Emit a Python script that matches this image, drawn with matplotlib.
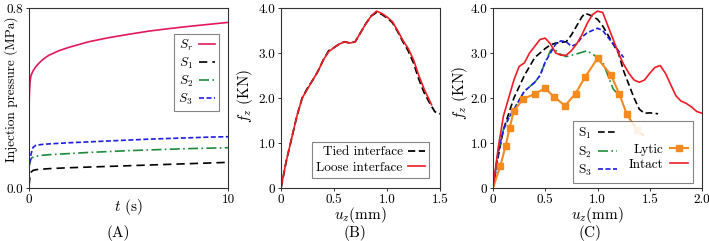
import matplotlib
matplotlib.use("Agg")
import matplotlib.pyplot as plt
from matplotlib.lines import Line2D

plt.rcParams['font.family'] = ['cmr10', 'DejaVu Serif']
plt.rcParams['mathtext.fontset'] = 'cm'
plt.rcParams['axes.formatter.use_mathtext'] = True

# ---------------- Panel A data ----------------
t_r = [0, 0.02, 0.05, 0.1, 0.2, 0.35, 0.5, 0.75, 1.0, 1.5, 2, 3, 4, 5, 6, 7, 8, 9, 10]
p_r = [0.34, 0.42, 0.47, 0.50, 0.52, 0.54, 0.555, 0.575, 0.59, 0.61, 0.625, 0.65, 0.668,
       0.683, 0.697, 0.708, 0.718, 0.727, 0.736]
t_1 = [0, 0.05, 0.1, 0.2, 0.4, 0.7, 1, 2, 3, 4, 5, 6, 7, 8, 9, 10]
p_1 = [0.01, 0.05, 0.07, 0.078, 0.082, 0.084, 0.086, 0.09, 0.093, 0.096, 0.099, 0.102,
       0.105, 0.108, 0.111, 0.114]
t_2 = [0.02, 0.05, 0.08, 0.15, 0.3, 0.6, 1, 2, 3, 4, 5, 6, 7, 8, 9, 10]
p_2 = [0.10, 0.11, 0.125, 0.135, 0.14, 0.145, 0.148, 0.153, 0.158, 0.162, 0.166, 0.169,
       0.172, 0.175, 0.177, 0.179]
t_3 = [0.02, 0.05, 0.1, 0.2, 0.35, 0.6, 1, 2, 3, 4, 5, 6, 7, 8, 9, 10]
p_3 = [0.11, 0.12, 0.15, 0.18, 0.19, 0.193, 0.196, 0.201, 0.205, 0.209, 0.213, 0.217,
       0.220, 0.223, 0.226, 0.228]

# ---------------- Panel B data ----------------
u_loose = [0, 0.05, 0.1, 0.15, 0.2, 0.25, 0.3, 0.35, 0.4, 0.45, 0.5, 0.55, 0.6, 0.65, 0.7,
           0.75, 0.8, 0.85, 0.9, 0.95, 1.0, 1.05, 1.1, 1.15, 1.2, 1.25, 1.3, 1.35, 1.4, 1.42]
f_loose = [0, 0.6, 1.1, 1.6, 2.0, 2.2, 2.4, 2.6, 2.85, 3.03, 3.12, 3.2, 3.25, 3.22, 3.25,
           3.45, 3.65, 3.82, 3.93, 3.88, 3.8, 3.7, 3.5, 3.28, 3.1, 2.85, 2.5, 2.2, 1.95, 1.85]
u_tied = [0, 0.05, 0.1, 0.15, 0.2, 0.25, 0.3, 0.35, 0.4, 0.45, 0.5, 0.55, 0.6, 0.65, 0.7,
          0.75, 0.8, 0.85, 0.9, 0.95, 1.0, 1.05, 1.1, 1.15, 1.2, 1.25, 1.3, 1.35, 1.4, 1.45,
          1.48, 1.5]
f_tied = [0, 0.6, 1.1, 1.6, 2.0, 2.22, 2.4, 2.6, 2.85, 3.05, 3.12, 3.2, 3.25, 3.22, 3.25,
          3.45, 3.65, 3.82, 3.9, 3.86, 3.78, 3.68, 3.48, 3.25, 3.05, 2.78, 2.42, 2.12, 1.9,
          1.7, 1.65, 1.65]

# ---------------- Panel C data ----------------
u_int = [0, 0.05, 0.1, 0.15, 0.2, 0.25, 0.3, 0.35, 0.4, 0.45, 0.5, 0.55, 0.6, 0.65, 0.7,
         0.75, 0.8, 0.85, 0.9, 0.95, 1.0, 1.05, 1.1, 1.15, 1.2, 1.25, 1.3, 1.35, 1.4, 1.45,
         1.5, 1.55, 1.6, 1.65, 1.7, 1.75, 1.8, 1.85, 1.9, 1.95, 2.0]
f_int = [0, 0.9, 1.6, 2.0, 2.4, 2.7, 2.78, 3.0, 3.15, 3.3, 3.33, 3.2, 3.0, 2.95, 2.95,
         3.05, 3.2, 3.4, 3.65, 3.85, 3.93, 3.9, 3.6, 3.3, 3.0, 2.75, 2.55, 2.4, 2.35, 2.4,
         2.55, 2.68, 2.72, 2.55, 2.3, 2.05, 1.93, 1.88, 1.8, 1.7, 1.66]
u_s1 = [0, 0.05, 0.1, 0.2, 0.3, 0.4, 0.5, 0.55, 0.6, 0.7, 0.75, 0.8, 0.85, 0.88, 0.92, 1.0,
        1.05, 1.1, 1.2, 1.25, 1.3, 1.35, 1.4, 1.45, 1.5, 1.58]
f_s1 = [0, 0.7, 1.3, 2.0, 2.5, 2.9, 3.1, 3.18, 3.22, 3.25, 3.4, 3.6, 3.8, 3.88, 3.85, 3.75,
        3.6, 3.4, 3.0, 2.6, 2.3, 2.0, 1.75, 1.66, 1.67, 1.65]
u_s2 = [0, 0.05, 0.1, 0.15, 0.2, 0.3, 0.4, 0.45, 0.5, 0.55, 0.58, 0.62, 0.7, 0.8, 0.9,
        0.95, 1.0, 1.05, 1.1, 1.15, 1.2]
f_s2 = [0, 0.8, 1.3, 1.55, 1.75, 2.15, 2.35, 2.5, 2.8, 3.05, 3.12, 3.0, 2.92, 2.98, 3.05,
        2.98, 2.9, 2.8, 2.5, 2.2, 2.08]
u_s3 = [0, 0.05, 0.1, 0.15, 0.2, 0.3, 0.4, 0.45, 0.5, 0.55, 0.6, 0.65, 0.7, 0.75, 0.8,
        0.85, 0.9, 1.0, 1.05, 1.1, 1.15, 1.2, 1.25]
f_s3 = [0, 0.8, 1.3, 1.55, 1.75, 2.15, 2.35, 2.5, 2.8, 3.0, 3.2, 3.27, 3.25, 3.15, 3.2,
        3.35, 3.45, 3.55, 3.5, 3.35, 3.2, 3.05, 2.9]
u_lyt = [0, 0.07, 0.12, 0.16, 0.2, 0.29, 0.4, 0.5, 0.58, 0.69, 0.79, 0.88, 1.0, 1.13, 1.21,
         1.28, 1.38, 1.44]
f_lyt = [0, 0.49, 0.93, 1.34, 1.72, 1.98, 2.09, 2.22, 2.03, 1.83, 2.1, 2.46, 2.88, 2.51,
         2.08, 1.64, 1.29, 1.17]
lyt_markers = list(range(1, 16))
lyt_faded = 16

W, H = 709, 241
fig = plt.figure(figsize=(W / 100, H / 100), dpi=100)

def ax_px(x0, x1, y0, y1):
    return fig.add_axes([x0 / W, (H - y1) / H, (x1 - x0) / W, (y1 - y0) / H])

RED_A = '#e3185a'
RED = '#ee1c25'
GREEN = '#1e8c3a'
BLUE = '#1c1ce6'
ORANGE = '#f58a1f'
TICKFS = 9.5
LABFS = 10.5
LEGFS = 9.5

def style(ax):
    for s in ax.spines.values():
        s.set_color('#333333')
        s.set_linewidth(0.8)
    ax.tick_params(length=2, width=0.7, direction='out', labelsize=TICKFS, pad=2,
                   color='#333333')

def frame(lg):
    lg.get_frame().set_edgecolor('#666666')
    lg.get_frame().set_linewidth(0.8)

# ---- Panel A ----
axA = ax_px(29, 228, 8, 188)
axA.plot(t_r, p_r, color=RED_A, lw=1.2, label='$S_r$')
axA.plot(t_1, p_1, color='black', lw=1.2, ls=(0, (5, 3)), label='$S_1$')
axA.plot(t_2, p_2, color=GREEN, lw=1.2, ls=(0, (6, 2, 1, 2)), label='$S_2$')
axA.plot(t_3, p_3, color=BLUE, lw=1.2, ls=(0, (3, 1.5)), label='$S_3$')
axA.set_xlim(0, 10)
axA.set_ylim(0, 0.8)
axA.set_xticks([0, 10])
axA.set_xticklabels(['0', '10'])
axA.set_yticks([0, 0.8])
axA.set_yticklabels(['0.0', '0.8'])
axA.set_ylabel('Injection pressure (MPa)', fontsize=9.6)
axA.set_xlabel('$t$ (s)', fontsize=LABFS + 0.5)
axA.yaxis.set_label_coords(-0.055, 0.55)
axA.xaxis.set_label_coords(0.5, -0.05)
style(axA)
lgA = axA.legend(loc='upper right', bbox_to_anchor=(0.955, 0.856), borderaxespad=0,
                 markerfirst=False, fancybox=False, fontsize=LEGFS, handlelength=1.2,
                 handletextpad=0.5, labelspacing=0.2, borderpad=0.3)
frame(lgA)

# ---- Panel B ----
axB = ax_px(281, 440, 8, 188)
axB.plot(u_tied, f_tied, color='black', lw=1.3, ls=(0, (4, 2)), label='Tied interface')
axB.plot(u_loose, f_loose, color=RED, lw=1.2, label='Loose interface')
axB.set_xlim(0, 1.5)
axB.set_ylim(0, 4.0)
axB.set_xticks([0, 0.5, 1.0, 1.5])
axB.set_xticklabels(['0', '0.5', '1.0', '1.5'])
axB.set_yticks([0, 1, 2, 3, 4])
axB.set_yticklabels(['0', '1.0', '2.0', '3.0', '4.0'])
axB.set_ylabel('$f_z$ (KN)', fontsize=LABFS + 0.5)
axB.set_xlabel('$u_z$(mm)', fontsize=LABFS + 0.5)
axB.yaxis.set_label_coords(-0.164, 0.51)
axB.xaxis.set_label_coords(0.5, -0.095)
style(axB)
lgB = axB.legend(loc='lower right', bbox_to_anchor=(0.931, 0.056), borderaxespad=0,
                 markerfirst=False, fancybox=False, fontsize=LEGFS, handlelength=1.3,
                 handletextpad=0.4, labelspacing=0.25, borderpad=0.3)
frame(lgB)

# ---- Panel C ----
axC = ax_px(493, 702, 8, 188)
h1, = axC.plot(u_s1, f_s1, color='black', lw=1.2, ls=(0, (4, 2)), label='S$_1$')
h2, = axC.plot(u_s2, f_s2, color=GREEN, lw=1.2, ls=(0, (6, 2, 1, 2)), label='S$_2$')
h3, = axC.plot(u_s3, f_s3, color=BLUE, lw=1.2, ls=(0, (3, 1.5)), label='S$_3$')
h4, = axC.plot(u_lyt, f_lyt, color=ORANGE, lw=1.5, marker='s', markersize=4,
               markevery=lyt_markers, label='Lytic')
axC.plot(u_lyt[lyt_faded], f_lyt[lyt_faded], 's', color='#f9c08c', markersize=4)
h5, = axC.plot(u_int, f_int, color=RED, lw=1.2, label='Intact')
axC.set_xlim(0, 2.0)
axC.set_ylim(0, 4.0)
axC.set_xticks([0, 0.5, 1.0, 1.5, 2.0])
axC.set_xticklabels(['0', '0.5', '1.0', '1.5', '2.0'])
axC.set_yticks([0, 1, 2, 3, 4])
axC.set_yticklabels(['0', '1.0', '2.0', '3.0', '4.0'])
axC.set_ylabel('$f_z$ (KN)', fontsize=LABFS + 0.5)
axC.set_xlabel('$u_z$(mm)', fontsize=LABFS + 0.5)
axC.yaxis.set_label_coords(-0.108, 0.53)
axC.xaxis.set_label_coords(0.5, -0.095)
style(axC)
blank = Line2D([], [], linestyle='none')
lgC = axC.legend([h1, h2, h3, blank, h4, h5], ['S$_1$', 'S$_2$', 'S$_3$', ' ', 'Lytic', 'Intact'],
                 ncol=2, loc='lower right', bbox_to_anchor=(0.957, 0.028), borderaxespad=0,
                 markerfirst=False, fancybox=False, fontsize=LEGFS, handlelength=1.4,
                 handletextpad=0.5, labelspacing=0.25, borderpad=0.35, columnspacing=0.9)
frame(lgC)

# panel labels
fig.text(118 / W, 1 - 233 / H, '(A)', ha='center', va='center', fontsize=LABFS + 0.5)
fig.text(355 / W, 1 - 233 / H, '(B)', ha='center', va='center', fontsize=LABFS + 0.5)
fig.text(590 / W, 1 - 233 / H, '(C)', ha='center', va='center', fontsize=LABFS + 0.5)

fig.savefig('out.png', dpi=100)
